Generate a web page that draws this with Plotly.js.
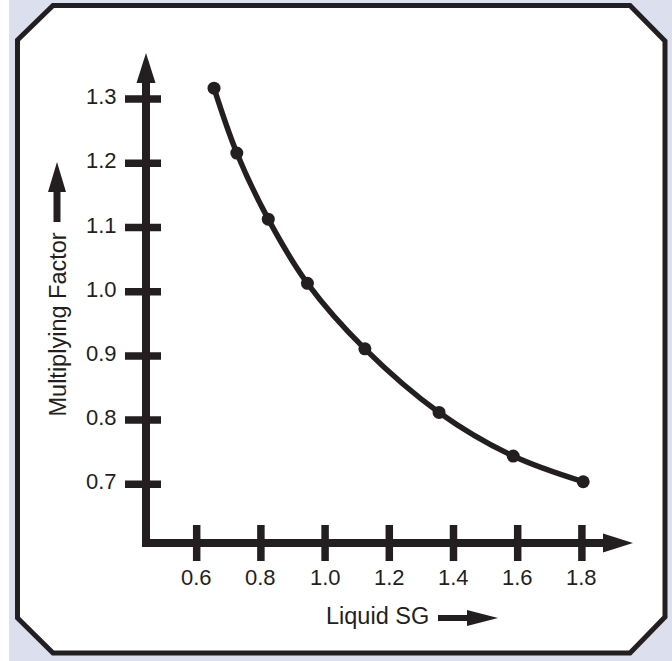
<!DOCTYPE html>
<html><head><meta charset="utf-8">
<script src="https://cdn.plot.ly/plotly-3.0.1.min.js"></script>
<style>html,body{margin:0;padding:0;background:#dce0ee;} #chart{width:672px;height:661px;}</style>
</head><body><div id="chart"></div>
<script>
// ---- data ----
const liquidSG = [0.654, 0.725, 0.823, 0.945, 1.124, 1.355, 1.586, 1.804];
const multiplyingFactor = [1.317, 1.216, 1.113, 1.013, 0.911, 0.812, 0.744, 0.704];
const xTickValues = [0.6, 0.8, 1.0, 1.2, 1.4, 1.6, 1.8];
const xTickLabels = ['0.6', '0.8', '1.0', '1.2', '1.4', '1.6', '1.8'];
const yTickValues = [0.7, 0.8, 0.9, 1.0, 1.1, 1.2, 1.3];
const yTickLabels = ['0.7', '0.8', '0.9', '1.0', '1.1', '1.2', '1.3'];
const xTitle = 'Liquid SG';
const yTitle = 'Multiplying Factor';

// ---- geometry (pixels) ----
const W = 672, H = 661;
const L = 146, R = 633, T = 53, B = 543;
const X = px => (px - L) / (R - L);
const Y = py => (B - py) / (B - T);
const P = (px, py) => X(px) + ',' + Y(py);
const INK = '#231f20';
const FONT = 'Liberation Sans, Arial, Helvetica, sans-serif';

const shapes = [];
// white strip at the far left
shapes.push({type:'rect', xref:'paper', yref:'paper', x0:X(0), x1:X(9), y0:Y(0), y1:Y(H),
  fillcolor:'#ffffff', line:{width:0}, layer:'below'});
// octagonal frame
shapes.push({type:'path', xref:'paper', yref:'paper', layer:'below',
  path:'M' + P(17.5,40) + 'L' + P(53,5.5) + 'L' + P(630,5.5) + 'L' + P(665,41) +
       'L' + P(665,617) + 'L' + P(630,653) + 'L' + P(53,653) + 'L' + P(17.5,618) + 'Z',
  fillcolor:'#ffffff', line:{color:INK, width:5}});
// y axis line + arrow
shapes.push({type:'line', xref:'paper', yref:'paper', x0:X(146), x1:X(146), y0:Y(547), y1:Y(82),
  line:{color:INK, width:8}});
shapes.push({type:'path', xref:'paper', yref:'paper',
  path:'M' + P(136.5,83) + 'L' + P(155.5,83) + 'L' + P(146,53) + 'Z', fillcolor:INK, line:{width:0}});
// x axis line + arrow
shapes.push({type:'line', xref:'paper', yref:'paper', x0:X(142), x1:X(604), y0:Y(543), y1:Y(543),
  line:{color:INK, width:8}});
shapes.push({type:'path', xref:'paper', yref:'paper',
  path:'M' + P(603,533.5) + 'L' + P(603,552.5) + 'L' + P(633,543) + 'Z', fillcolor:INK, line:{width:0}});
// crossing ticks
xTickValues.forEach(v => shapes.push({type:'line', xref:'x', yref:'paper', ysizemode:'pixel', yanchor:0,
  x0:v, x1:v, y0:-18, y1:18, line:{color:INK, width:7.5}}));
yTickValues.forEach(v => shapes.push({type:'line', yref:'y', xref:'paper', xsizemode:'pixel', xanchor:0,
  y0:v, y1:v, x0:-21, x1:15, line:{color:INK, width:7.5}}));
// title arrows
shapes.push({type:'line', xref:'paper', yref:'paper', x0:X(57), x1:X(57), y0:Y(222), y1:Y(190),
  line:{color:INK, width:7}});
shapes.push({type:'path', xref:'paper', yref:'paper',
  path:'M' + P(48,192) + 'L' + P(66,192) + 'L' + P(57,162) + 'Z', fillcolor:INK, line:{width:0}});
shapes.push({type:'line', xref:'paper', yref:'paper', x0:X(438), x1:X(468), y0:Y(618), y1:Y(618),
  line:{color:INK, width:6}});
shapes.push({type:'path', xref:'paper', yref:'paper',
  path:'M' + P(467,610) + 'L' + P(467,626) + 'L' + P(498,618) + 'Z', fillcolor:INK, line:{width:0}});

const annotations = [];
xTickValues.forEach((v, i) => annotations.push({xref:'x', yref:'paper', x:v, y:Y(577),
  xanchor:'center', yanchor:'middle', text:xTickLabels[i], showarrow:false,
  font:{family:FONT, size:22, color:INK}}));
yTickValues.forEach((v, i) => annotations.push({xref:'paper', yref:'y', x:X(119), y:v, yshift:2.5,
  xanchor:'right', yanchor:'middle', text:yTickLabels[i], showarrow:false,
  font:{family:FONT, size:22, color:INK}}));
annotations.push({xref:'paper', yref:'paper', x:X(324), y:Y(616), xanchor:'left', yanchor:'middle',
  text:xTitle, showarrow:false, font:{family:FONT, size:23.5, color:INK}});
annotations.push({xref:'paper', yref:'paper', x:X(57), y:Y(324.5), xanchor:'center', yanchor:'middle',
  textangle:-90, text:yTitle, showarrow:false, font:{family:FONT, size:23.5, color:INK}});

const trace = {
  x: liquidSG, y: multiplyingFactor, type:'scatter', mode:'lines+markers',
  line:{color:INK, width:5.5, shape:'spline', smoothing:1},
  marker:{color:INK, size:13}, cliponaxis:false, hoverinfo:'skip'
};

const layout = {
  width:W, height:H,
  margin:{l:L, r:W - R, t:T, b:H - B, pad:0},
  paper_bgcolor:'#dce0ee', plot_bgcolor:'rgba(0,0,0,0)',
  showlegend:false,
  xaxis:{range:[0.4421, 1.9592], showgrid:false, zeroline:false, showline:false,
    showticklabels:false, ticks:'', fixedrange:true},
  yaxis:{range:[0.6086, 1.3718], showgrid:false, zeroline:false, showline:false,
    showticklabels:false, ticks:'', fixedrange:true},
  shapes:shapes, annotations:annotations
};

Plotly.newPlot('chart', [trace], layout, {displayModeBar:false, staticPlot:true});
</script></body></html>
